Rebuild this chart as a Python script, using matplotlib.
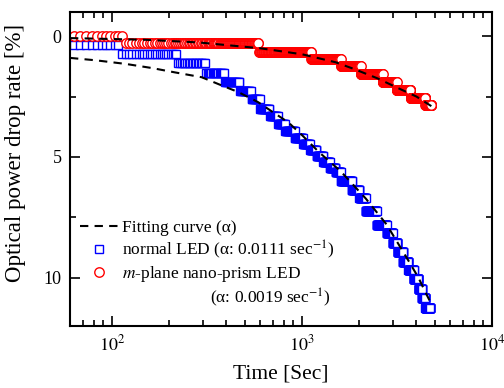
import numpy as np
import matplotlib
matplotlib.use("Agg")
import matplotlib.pyplot as plt
from matplotlib.lines import Line2D
from matplotlib.ticker import FixedLocator, NullFormatter, LogLocator

plt.rcParams['font.family'] = ['Liberation Serif', 'DejaVu Serif']
plt.rcParams['mathtext.fontset'] = 'stix'

# ---- data ----
# normal LED: step levels (%) and the time (s) at which each level ends
blue_t_end = [110, 220, 310, 390, 470, 540, 600, 675, 745, 815, 915, 1010, 1100,
              1190, 1290, 1400, 1500, 1600, 1830, 2000, 2160, 2470, 2790, 3000,
              3180, 3400, 3630, 3870, 4100, 4280, 4460, 4730]
blue_v = [0.36, 0.72, 1.13, 1.51, 1.9, 2.27, 2.61, 3.03, 3.3, 3.65, 3.93, 4.2, 4.45,
          4.7, 4.95, 5.2, 5.45, 5.64, 6.0, 6.35, 6.72, 7.22, 7.8, 8.15,
          8.55, 8.95, 9.34, 9.7, 10.04, 10.45, 10.83, 11.25]
# m-plane nano-prism LED
red_t_end = [115, 589, 1114, 1600, 2037, 2654, 3143, 3724, 4460, 4800]
red_v = [0.0, 0.29, 0.64, 0.93, 1.25, 1.58, 1.9, 2.22, 2.54, 2.86]
sample_step = 5  # s between measurements
t_start = 63

# fitting curves
blue_fit_t = [60, 82, 118, 162, 214, 296, 380, 463, 589, 688, 847, 1000, 1227,
              1600, 2163, 2788, 3184, 3634, 4100, 4460, 4730]
blue_fit_v = [0.9, 1.0, 1.15, 1.32, 1.5, 1.7, 2.05, 2.32, 2.74, 3.1, 3.57, 4.1, 4.8,
              5.6, 6.72, 7.8, 8.55, 9.3, 10.0, 10.6, 11.0]
red_fit_t = [60, 150, 285, 600, 1000, 1500, 1893, 2500, 3200, 4000, 4800]
red_fit_v = [0.08, 0.15, 0.26, 0.5, 0.75, 1.08, 1.37, 1.75, 2.15, 2.5, 2.9]


def expand(t_end, v):
    t = np.arange(t_start, t_end[-1] + 1, sample_step)
    idx = np.clip(np.searchsorted(t_end, t, side='left'), 0, len(v) - 1)
    return t, np.asarray(v)[idx]


bt, bv = expand(blue_t_end, blue_v)
rt, rv = expand(red_t_end, red_v)

fig = plt.figure(figsize=(5.04, 3.88), dpi=100)
ax = fig.add_axes([70/504, 1-326/388, (492-70)/504, (326-12)/388])

ax.plot(bt, bv, ls='none', marker='s', ms=6.0, mfc='white', mec='#0000ff', mew=1.0)
ax.plot(rt, rv, ls='none', marker='o', ms=6.8, mfc='white', mec='#ff0000', mew=1.0)
ax.plot(blue_fit_t, blue_fit_v, ls=(0, (4, 3)), color='black', lw=1.5)
ax.plot(red_fit_t, red_fit_v, ls=(0, (4, 3)), color='black', lw=1.5)

ax.set_xscale('log')
ax.set_xlim(60, 10000)
ax.set_ylim(12, -1)
ax.xaxis.set_major_locator(FixedLocator([100, 1000, 10000]))
ax.set_xticklabels([r'$10^{2}$', r'$10^{3}$', r'$10^{4}$'])
ax.xaxis.set_minor_locator(LogLocator(base=10, subs=np.arange(2, 10)))
ax.xaxis.set_minor_formatter(NullFormatter())
ax.yaxis.set_major_locator(FixedLocator([0, 5, 10]))
ax.yaxis.set_minor_locator(FixedLocator([2.5, 7.5]))
ax.tick_params(which='both', direction='in', top=True, right=True, width=1.2)
ax.tick_params(which='major', length=7, labelsize=13, pad=6)
ax.tick_params(which='minor', length=4)
for s in ax.spines.values():
    s.set_linewidth(1.5)

ax.set_xlabel('Time [Sec]', fontsize=15.5, labelpad=7)
ax.set_ylabel('Optical power drop rate [%]', fontsize=16.5)
ax.yaxis.set_label_coords(-0.105, 0.55)

handles = [
    Line2D([], [], ls=(0, (4, 3)), color='black', lw=1.5),
    Line2D([], [], ls='none', marker='s', ms=6.0, mfc='white', mec='#0000ff', mew=1.0),
    Line2D([], [], ls='none', marker='o', ms=6.8, mfc='white', mec='#ff0000', mew=1.0),
]
labels = ['Fitting curve (\u03b1)',
          'normal LED (\u03b1: 0.0111 sec$^{-1}$)',
          '$m$-plane nano-prism LED']
leg = ax.legend(handles, labels, loc='upper left', bbox_to_anchor=(0.007, 0.36),
                frameon=False, fontsize=12.5, handlelength=2.2, handletextpad=0.25,
                labelspacing=0.15, borderaxespad=0)
ax.text(0.332, 0.09, '(\u03b1: 0.0019 sec$^{-1}$)', transform=ax.transAxes,
        fontsize=12.5, ha='left', va='center')

fig.savefig('out.png', dpi=100)
